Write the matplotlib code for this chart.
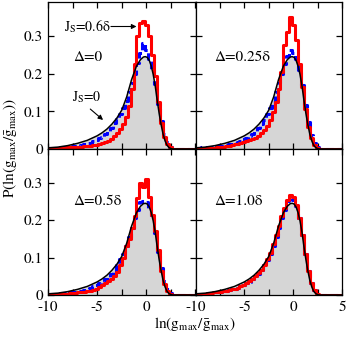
import numpy as np
import matplotlib
matplotlib.use("Agg")
import matplotlib.pyplot as plt
from matplotlib.ticker import MultipleLocator, FixedLocator

plt.rcParams['font.family'] = 'STIXGeneral'
plt.rcParams['mathtext.fontset'] = 'stix'

# bins of the histograms: left edge -10, width 0.3, 43 bins
BIN_START = -10.0
BIN_WIDTH = 0.3
N_BINS = 43

# smooth J_s=0 curve (same in every panel)
curva_x = [-10, -9, -8, -7, -6, -5, -4.5, -4, -3.5, -3, -2.5, -2, -1.5, -1, -0.6, -0.3,
           -0.1, 0.1, 0.3, 0.5, 0.7, 0.9, 1.1, 1.3, 1.5, 1.7, 1.9, 2.1, 2.3, 2.5, 2.7, 5]
curva_y = [0.003, 0.005, 0.009, 0.015, 0.023, 0.035, 0.043, 0.053, 0.066, 0.082, 0.103, 0.138,
           0.184, 0.220, 0.237, 0.244, 0.245, 0.243, 0.235, 0.220, 0.198, 0.168, 0.130, 0.095,
           0.065, 0.040, 0.022, 0.010, 0.004, 0.001, 0.0, 0.0]

# J_s=0 histograms (blue dashed)
azul_d0 = [0.002, 0.002, 0.003, 0.003, 0.004, 0.004, 0.005, 0.006, 0.007, 0.008,
           0.009, 0.011, 0.013, 0.015, 0.017, 0.020, 0.024, 0.028, 0.033, 0.040,
           0.047, 0.056, 0.068, 0.080, 0.094, 0.110, 0.128, 0.150, 0.175, 0.200,
           0.228, 0.255, 0.280, 0.262, 0.240, 0.212, 0.172, 0.120, 0.075, 0.040, 0.018, 0.006, 0.001]
azul_d025 = [0.003, 0.003, 0.004, 0.004, 0.005, 0.006, 0.006, 0.007, 0.008, 0.009,
             0.011, 0.012, 0.014, 0.016, 0.019, 0.022, 0.026, 0.030, 0.035, 0.041,
             0.048, 0.056, 0.066, 0.078, 0.092, 0.108, 0.126, 0.150, 0.175, 0.200,
             0.225, 0.248, 0.262, 0.255, 0.238, 0.210, 0.170, 0.118, 0.072, 0.038, 0.016, 0.005, 0.001]
azul_d05 = [0.003, 0.003, 0.004, 0.004, 0.005, 0.006, 0.006, 0.007, 0.008, 0.009,
            0.011, 0.012, 0.014, 0.017, 0.020, 0.023, 0.027, 0.031, 0.036, 0.042,
            0.048, 0.056, 0.067, 0.080, 0.095, 0.110, 0.130, 0.155, 0.180, 0.205,
            0.228, 0.248, 0.250, 0.248, 0.232, 0.205, 0.165, 0.115, 0.072, 0.038, 0.016, 0.005, 0.001]
azul_d1 = [0.003, 0.003, 0.004, 0.004, 0.005, 0.006, 0.007, 0.008, 0.009, 0.010,
           0.011, 0.013, 0.015, 0.017, 0.020, 0.023, 0.027, 0.031, 0.036, 0.042,
           0.049, 0.057, 0.067, 0.079, 0.093, 0.110, 0.132, 0.156, 0.180, 0.205,
           0.228, 0.250, 0.258, 0.255, 0.238, 0.205, 0.160, 0.110, 0.065, 0.033, 0.013, 0.004, 0.0]

# J_s=0.6 delta histograms (red)
verm_d0 = [0.002, 0.002, 0.002, 0.003, 0.003, 0.003, 0.004, 0.004, 0.004, 0.005,
           0.005, 0.006, 0.007, 0.008, 0.009, 0.010, 0.011, 0.012, 0.015, 0.018,
           0.022, 0.027, 0.034, 0.042, 0.053, 0.066, 0.085, 0.115, 0.160, 0.225,
           0.300, 0.333, 0.340, 0.330, 0.300, 0.250, 0.195, 0.125, 0.068, 0.033, 0.014, 0.004, 0.0]
verm_d025 = [0.002, 0.002, 0.002, 0.002, 0.003, 0.003, 0.003, 0.004, 0.004, 0.005,
             0.007, 0.008, 0.010, 0.012, 0.014, 0.016, 0.018, 0.020, 0.023, 0.026,
             0.029, 0.035, 0.042, 0.050, 0.062, 0.076, 0.098, 0.125, 0.160, 0.205,
             0.275, 0.310, 0.350, 0.330, 0.290, 0.225, 0.165, 0.105, 0.058, 0.028, 0.010, 0.003, 0.0]
verm_d05 = [0.002, 0.002, 0.003, 0.003, 0.003, 0.004, 0.004, 0.005, 0.005, 0.006,
            0.007, 0.008, 0.009, 0.010, 0.012, 0.014, 0.017, 0.021, 0.026, 0.031,
            0.037, 0.044, 0.052, 0.062, 0.080, 0.100, 0.130, 0.150, 0.180, 0.210,
            0.260, 0.298, 0.288, 0.310, 0.262, 0.215, 0.170, 0.120, 0.065, 0.030, 0.010, 0.003, 0.0]
verm_d1 = [0.003, 0.003, 0.004, 0.004, 0.005, 0.006, 0.007, 0.008, 0.009, 0.010,
           0.011, 0.013, 0.015, 0.017, 0.020, 0.023, 0.027, 0.032, 0.037, 0.043,
           0.050, 0.058, 0.068, 0.080, 0.095, 0.112, 0.135, 0.160, 0.185, 0.210,
           0.232, 0.255, 0.268, 0.262, 0.240, 0.205, 0.160, 0.110, 0.065, 0.033, 0.014, 0.004, 0.0]

paineis = [
    ('Δ=0', azul_d0, verm_d0),
    ('Δ=0.25δ', azul_d025, verm_d025),
    ('Δ=0.5δ', azul_d05, verm_d05),
    ('Δ=1.0δ', azul_d1, verm_d1),
]

bordas = BIN_START + BIN_WIDTH * np.arange(N_BINS + 1)
step_x = np.r_[bordas, 5.0]

fig = plt.figure(figsize=(3.46, 3.38), dpi=100)
W, H = 346.0, 338.0
x0, xm, x1 = 48, 195.5, 342
y0, ym, y1 = 2, 149, 295
posicoes = [
    (x0, y0, xm, ym), (xm, y0, x1, ym),
    (x0, ym, xm, y1), (xm, ym, x1, y1),
]

FS = 11
for k, (rotulo, azul, verm) in enumerate(paineis):
    l, t, r, b = posicoes[k]
    ax = fig.add_axes([l / W, 1 - b / H, (r - l) / W, (b - t) / H])
    ax.fill_between(curva_x, curva_y, 0, color='#d6d6d6', lw=0)
    ax.plot(step_x, np.r_[azul, 0, 0], drawstyle='steps-post', color='#0000ff',
            lw=2.2, ls=(0, (2.5, 1.2)))
    ax.plot(step_x, np.r_[verm, 0, 0], drawstyle='steps-post', color='#ff0000', lw=2.2)
    ax.plot(curva_x, curva_y, color='k', lw=1.1)

    ax.set_xlim(-10, 5)
    ax.set_ylim(0, 0.39)
    ax.xaxis.set_major_locator(FixedLocator([-10, -5, 0, 5]))
    ax.xaxis.set_minor_locator(MultipleLocator(2.5))
    ax.yaxis.set_major_locator(FixedLocator([0, 0.1, 0.2, 0.3]))
    ax.tick_params(which='both', direction='in', top=True, right=True,
                   length=4.5, width=0.9, labelsize=FS)
    ax.tick_params(axis='x', pad=4)
    for s in ax.spines.values():
        s.set_linewidth(0.9)
    ax.set_yticklabels(['0', '0.1', '0.2', '0.3'])
    if k < 2:
        ax.set_xticklabels([])
    else:
        ax.set_xticklabels(['-10', '-5', '0', '' if k == 2 else '5'])
    if k % 2 == 1:
        ax.set_yticklabels([])

    ax.text(-8.1 if k % 2 else -7.4, 0.243 if k < 2 else 0.249, rotulo,
            fontsize=FS, ha='left', va='center')

    if k == 0:
        ax.text(-8.4, 0.325, r'J$_\mathrm{S}$=0.6δ', fontsize=FS - 1,
                ha='left', va='center')
        ax.annotate('', xy=(-1.0, 0.325), xytext=(-3.6, 0.325),
                    arrowprops=dict(arrowstyle='-|>', color='k', lw=0.8,
                                    mutation_scale=7, shrinkA=0, shrinkB=0))
        ax.text(-7.6, 0.138, r'J$_\mathrm{S}$=0', fontsize=FS - 1,
                ha='left', va='center')
        ax.annotate('', xy=(-4.4, 0.077), xytext=(-5.7, 0.106),
                    arrowprops=dict(arrowstyle='-|>', color='k', lw=0.8,
                                    mutation_scale=7, shrinkA=0, shrinkB=0))

fig.text(10 / W, 1 - 148 / H, r'P(ln(g$_\mathrm{max}$/$\bar{\mathrm{g}}_\mathrm{max}$))',
         rotation=90, ha='center', va='center', fontsize=FS)
fig.text(195 / W, 1 - 324 / H, r'ln(g$_\mathrm{max}$/$\bar{\mathrm{g}}_\mathrm{max}$)',
         ha='center', va='center', fontsize=FS)

fig.savefig('out.png', dpi=100)
